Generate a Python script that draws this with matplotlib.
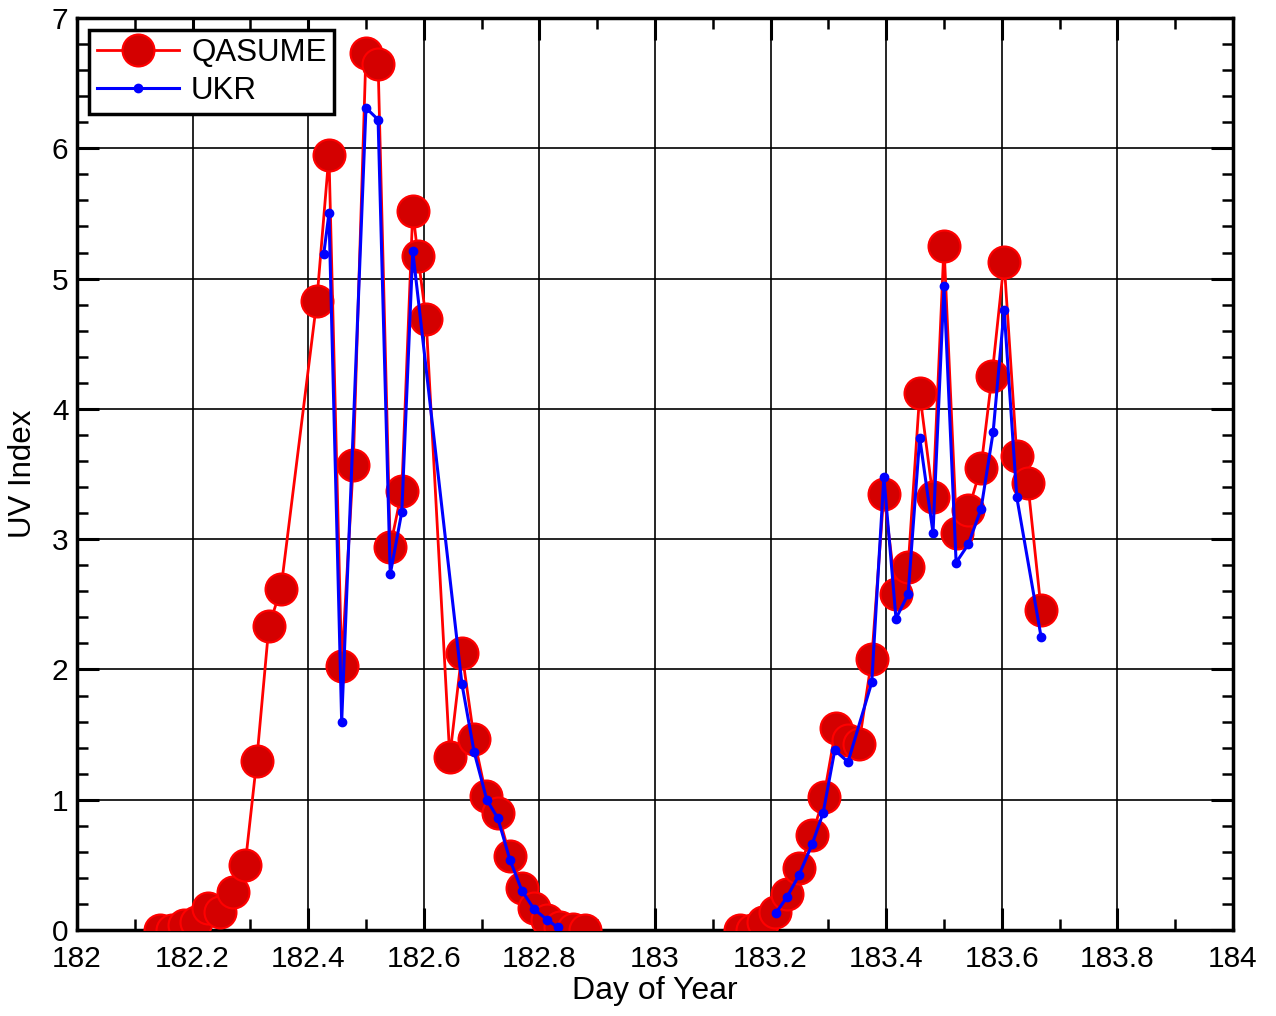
import numpy as np
import matplotlib.pyplot as plt
from matplotlib.ticker import MultipleLocator

plt.rcParams['font.family'] = ['Liberation Sans', 'DejaVu Sans']

# QASUME measurements (day of year, UV index)
qasume_day = [182.144, 182.164, 182.185, 182.206, 182.227, 182.247, 182.270, 182.291,
              182.311, 182.332, 182.353, 182.415, 182.436, 182.458, 182.478, 182.500,
              182.521, 182.542, 182.562, 182.581, 182.590, 182.604, 182.645, 182.666,
              182.687, 182.708, 182.728, 182.749, 182.770, 182.791, 182.813, 182.836,
              182.858, 182.879,
              183.147, 183.168, 183.187, 183.208, 183.228, 183.249, 183.272, 183.292,
              183.313, 183.334, 183.353, 183.375, 183.396, 183.417, 183.438, 183.458,
              183.481, 183.500, 183.522, 183.542, 183.564, 183.583, 183.604, 183.626,
              183.645, 183.668]
qasume_uvi = [0.00, 0.00, 0.04, 0.06, 0.17, 0.14, 0.29, 0.50,
              1.30, 2.33, 2.62, 4.83, 5.95, 2.03, 3.57, 6.73,
              6.65, 2.94, 3.37, 5.52, 5.17, 4.69, 1.33, 2.13,
              1.47, 1.03, 0.90, 0.57, 0.32, 0.17, 0.08, 0.02,
              0.01, 0.00,
              0.00, 0.00, 0.06, 0.14, 0.28, 0.48, 0.73, 1.02,
              1.55, 1.46, 1.43, 2.08, 3.35, 2.58, 2.79, 4.12,
              3.32, 5.25, 3.05, 3.22, 3.55, 4.25, 5.13, 3.64,
              3.43, 2.46]

# UKR measurements
ukr_day = [182.427, 182.436, 182.458, 182.500, 182.521, 182.542, 182.562, 182.581,
           182.666, 182.687, 182.709, 182.728, 182.749, 182.770, 182.791, 182.813,
           182.832,
           183.209, 183.228, 183.249, 183.272, 183.291, 183.311, 183.334, 183.375,
           183.396, 183.417, 183.438, 183.458, 183.481, 183.500, 183.521, 183.542,
           183.564, 183.585, 183.604, 183.626, 183.668]
ukr_uvi = [5.19, 5.50, 1.60, 6.31, 6.22, 2.73, 3.21, 5.21,
           1.89, 1.37, 1.00, 0.86, 0.54, 0.30, 0.16, 0.08,
           0.02,
           0.13, 0.25, 0.42, 0.66, 0.90, 1.38, 1.29, 1.90,
           3.48, 2.39, 2.58, 3.78, 3.05, 4.94, 2.82, 2.96,
           3.23, 3.82, 4.76, 3.32, 2.25]

# split into the two days so the lines don't join across the night
def split(days, vals):
    days = np.array(days)
    vals = np.array(vals)
    m = days < 183
    return (days[m], vals[m]), (days[~m], vals[~m])

fig = plt.figure(figsize=(12.76, 10.16), dpi=100)
ax = fig.add_axes([0.0603, 0.0846, 0.906, 0.8977])

for i, (d, v) in enumerate(split(qasume_day, qasume_uvi)):
    ax.plot(d, v, color='#ff0000', lw=2.0, marker='o', ms=23,
            mfc='#d40000', mec='#ff0000', mew=1.5,
            label='QASUME' if i == 0 else None, zorder=3)
for i, (d, v) in enumerate(split(ukr_day, ukr_uvi)):
    ax.plot(d, v, color='#0000ff', lw=2.2, marker='o', ms=6,
            mfc='#0000ff', mec='#0000ff',
            label='UKR' if i == 0 else None, zorder=4)

ax.set_xlim(182, 184)
ax.set_ylim(0, 7)
ax.xaxis.set_major_locator(MultipleLocator(0.2))
ax.xaxis.set_minor_locator(MultipleLocator(0.1))
ax.yaxis.set_major_locator(MultipleLocator(1))
ax.yaxis.set_minor_locator(MultipleLocator(0.2))
ax.set_xticks(np.arange(182, 184.01, 0.2))
ax.set_xticklabels(['182', '182.2', '182.4', '182.6', '182.8', '183',
                    '183.2', '183.4', '183.6', '183.8', '184'])

ax.grid(True, which='major', color='black', lw=1.2)
ax.tick_params(which='both', direction='in', top=True, right=True,
               labelsize=21.5, colors='black')
ax.tick_params(which='major', length=16, width=2.2, pad=6)
ax.tick_params(axis='x', which='major', pad=11)
ax.tick_params(which='minor', length=8, width=1.8)
for s in ax.spines.values():
    s.set_linewidth(2.5)

ax.set_xlabel('Day of Year', fontsize=23, labelpad=2)
ax.set_ylabel('UV Index', fontsize=22.5, labelpad=10)

leg = ax.legend(loc='upper left', fontsize=22.5, fancybox=False, framealpha=1,
                edgecolor='black', handlelength=2.6, borderaxespad=0.4,
                borderpad=0.25, labelspacing=0.25, handletextpad=0.4, numpoints=1)
leg.get_frame().set_linewidth(2.5)

fig.savefig('out.png', dpi=100)
